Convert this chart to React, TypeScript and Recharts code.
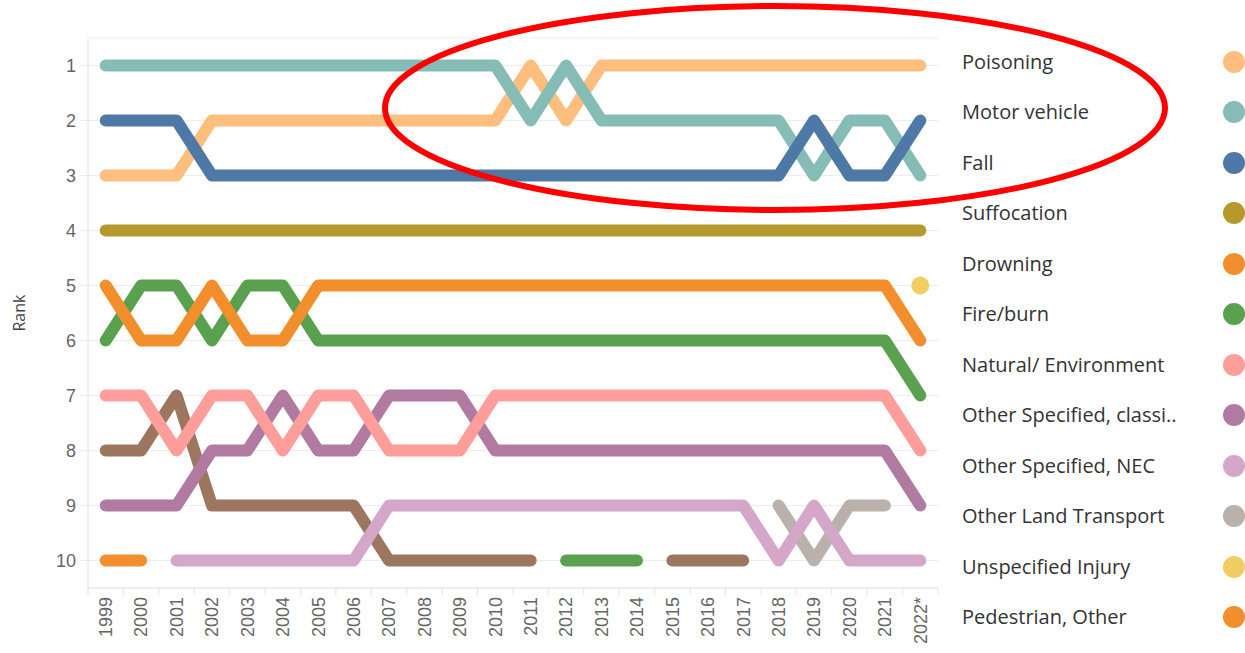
import React from "react";
import { LineChart, Line, XAxis, YAxis, CartesianGrid } from "recharts";

const years = ["1999", "2000", "2001", "2002", "2003", "2004", "2005", "2006", "2007", "2008", "2009", "2010",
  "2011", "2012", "2013", "2014", "2015", "2016", "2017", "2018", "2019", "2020", "2021", "2022*"];
const rankTicks = [1, 2, 3, 4, 5, 6, 7, 8, 9, 10];

const _ = null;
const poisoning = [3, 3, 3, 2, 2, 2, 2, 2, 2, 2, 2, 2, 1, 2, 1, 1, 1, 1, 1, 1, 1, 1, 1, 1];
const motorVehicle = [1, 1, 1, 1, 1, 1, 1, 1, 1, 1, 1, 1, 2, 1, 2, 2, 2, 2, 2, 2, 3, 2, 2, 3];
const fall = [2, 2, 2, 3, 3, 3, 3, 3, 3, 3, 3, 3, 3, 3, 3, 3, 3, 3, 3, 3, 2, 3, 3, 2];
const suffocation = [4, 4, 4, 4, 4, 4, 4, 4, 4, 4, 4, 4, 4, 4, 4, 4, 4, 4, 4, 4, 4, 4, 4, 4];
const drowning = [5, 6, 6, 5, 6, 6, 5, 5, 5, 5, 5, 5, 5, 5, 5, 5, 5, 5, 5, 5, 5, 5, 5, 6];
const fireBurn = [6, 5, 5, 6, 5, 5, 6, 6, 6, 6, 6, 6, 6, 6, 6, 6, 6, 6, 6, 6, 6, 6, 6, 7];
const natural = [7, 7, 8, 7, 7, 8, 7, 7, 8, 8, 8, 7, 7, 7, 7, 7, 7, 7, 7, 7, 7, 7, 7, 8];
const otherClassifiable = [9, 9, 9, 8, 8, 7, 8, 8, 7, 7, 7, 8, 8, 8, 8, 8, 8, 8, 8, 8, 8, 8, 8, 9];
const otherNec = [_, _, 10, 10, 10, 10, 10, 10, 9, 9, 9, 9, 9, 9, 9, 9, 9, 9, 9, 10, 9, 10, 10, 10];
const otherLand = [_, _, _, _, _, _, _, _, _, _, _, _, _, _, _, _, _, _, _, 9, 10, 9, 9, _];
const unspecified = [_, _, _, _, _, _, _, _, _, _, _, _, _, _, _, _, _, _, _, _, _, _, _, 5];
const pedestrian = [10, 10, _, _, _, _, _, _, _, _, _, _, _, _, _, _, _, _, _, _, _, _, _, _];
// two more series appear in the plot but their legend rows are cut off
const brownSeries = [8, 8, 7, 9, 9, 9, 9, 9, 10, 10, 10, 10, 10, _, _, _, 10, 10, 10, _, _, _, _, _];
const greenSeries = [_, _, _, _, _, _, _, _, _, _, _, _, _, 10, 10, 10, _, _, _, _, _, _, _, _];

const legendItems = [
  { name: "Poisoning", color: "#FFBE7D" },
  { name: "Motor vehicle", color: "#86BCB6" },
  { name: "Fall", color: "#4E79A7" },
  { name: "Suffocation", color: "#B6992D" },
  { name: "Drowning", color: "#F28E2B" },
  { name: "Fire/burn", color: "#59A14F" },
  { name: "Natural/ Environment", color: "#FF9D9A" },
  { name: "Other Specified, classi..", color: "#B07AA1" },
  { name: "Other Specified, NEC", color: "#D4A6C8" },
  { name: "Other Land Transport", color: "#BAB0AC" },
  { name: "Unspecified Injury", color: "#F1CE63" },
  { name: "Pedestrian, Other", color: "#F28E2B" },
];

// drawing order: later entries sit on top
const series = [
  { key: "brown", values: brownSeries, color: "#9D7660" },
  { key: "green", values: greenSeries, color: "#59A14F" },
  { key: "pedestrian", values: pedestrian, color: "#F28E2B" },
  { key: "otherLand", values: otherLand, color: "#BAB0AC" },
  { key: "otherNec", values: otherNec, color: "#D4A6C8" },
  { key: "otherClassifiable", values: otherClassifiable, color: "#B07AA1" },
  { key: "natural", values: natural, color: "#FF9D9A" },
  { key: "fireBurn", values: fireBurn, color: "#59A14F" },
  { key: "drowning", values: drowning, color: "#F28E2B" },
  { key: "suffocation", values: suffocation, color: "#B6992D" },
  { key: "poisoning", values: poisoning, color: "#FFBE7D" },
  { key: "motorVehicle", values: motorVehicle, color: "#86BCB6" },
  { key: "fall", values: fall, color: "#4E79A7" },
];

const data = years.map((year, i) => {
  const row: Record<string, any> = { i, year, unspecified: unspecified[i] };
  series.forEach((s) => (row[s.key] = s.values[i]));
  return row;
});

const W = 1245;
const H = 653;
const PLOT_LEFT = 88;
const PLOT_RIGHT = 938;
const BAND = (PLOT_RIGHT - PLOT_LEFT) / years.length;

const YearTick = (props: any) => {
  const { x, y, payload } = props;
  const last = payload.value === years.length - 1;
  return (
    <g>
      <line x1={x - BAND / 2} x2={x - BAND / 2} y1={y} y2={y + 7} stroke="#e3e3e3" />
      {last && <line x1={x + BAND / 2} x2={x + BAND / 2} y1={y} y2={y + 7} stroke="#e3e3e3" />}
      <text
        x={x}
        y={y + 9}
        transform={`rotate(-90, ${x}, ${y + 9})`}
        textAnchor="end"
        dy="0.35em"
        fill="#666"
        fontSize={18}
        fontFamily="Liberation Sans, Arial, sans-serif"
      >
        {years[payload.value]}
      </text>
    </g>
  );
};

export default function App() {
  return (
    <div style={{ position: "absolute", left: 0, top: 0, width: W, height: H, background: "#fff" }}>
      <LineChart width={W} height={H} data={data} margin={{ top: 38, right: W - PLOT_RIGHT, bottom: 0, left: 0 }}>
        <CartesianGrid vertical={false} stroke="#ededed" />
        <XAxis
          type="number"
          dataKey="i"
          domain={[-0.5, years.length - 0.5]}
          ticks={years.map((_y, i) => i)}
          interval={0}
          height={65}
          tickSize={0}
          tickMargin={0}
          axisLine={{ stroke: "#e3e3e3" }}
          tick={<YearTick />}
        />
        <YAxis
          type="number"
          domain={[0.5, 10.5]}
          reversed
          ticks={rankTicks}
          interval={0}
          width={PLOT_LEFT}
          tickSize={8}
          tickMargin={4}
          axisLine={{ stroke: "#e3e3e3" }}
          tickLine={{ stroke: "#ededed" }}
          tick={{ fill: "#666", fontSize: 18, fontFamily: "Liberation Sans, Arial, sans-serif" }}
          label={{
            content: (p: any) => {
              const vb = p.viewBox;
              const cx = 19;
              const cy = vb.y + vb.height / 2;
              return (
                <text x={cx} y={cy} transform={`rotate(-90, ${cx}, ${cy})`} textAnchor="middle" dy="0.35em"
                  fill="#444" fontSize={16} fontFamily="Open Sans, sans-serif">
                  Rank
                </text>
              );
            },
          }}
        />
        {series.map((s) => (
          <Line
            key={s.key}
            dataKey={s.key}
            type="linear"
            stroke={s.color}
            strokeWidth={12}
            strokeLinecap="round"
            strokeLinejoin="round"
            dot={false}
            activeDot={false}
            isAnimationActive={false}
          />
        ))}
        <Line
          dataKey="unspecified"
          stroke="#F1CE63"
          strokeWidth={0}
          dot={{ r: 9, fill: "#F1CE63", stroke: "none" }}
          activeDot={false}
          isAnimationActive={false}
        />
      </LineChart>

      <div style={{ position: "absolute", left: 0, top: 0, width: W, height: H, pointerEvents: "none" }}>
        {legendItems.map((item, k) => {
          const cy = 62 + k * 50.45;
          return (
            <React.Fragment key={item.name}>
              <div
                style={{
                  position: "absolute",
                  left: 962,
                  top: cy - 14,
                  height: 28,
                  lineHeight: "28px",
                  fontSize: 20,
                  color: "#333",
                  fontFamily: "Open Sans, sans-serif",
                  whiteSpace: "nowrap",
                }}
              >
                {item.name}
              </div>
              <div
                style={{
                  position: "absolute",
                  left: 1234 - 11,
                  top: cy - 11,
                  width: 22,
                  height: 22,
                  borderRadius: "50%",
                  background: item.color,
                }}
              />
            </React.Fragment>
          );
        })}
      </div>

      <svg width={W} height={H} style={{ position: "absolute", left: 0, top: 0, pointerEvents: "none" }}>
        <ellipse cx={775} cy={108} rx={390} ry={102} fill="none" stroke="#FF0000" strokeWidth={6} />
      </svg>
    </div>
  );
}
